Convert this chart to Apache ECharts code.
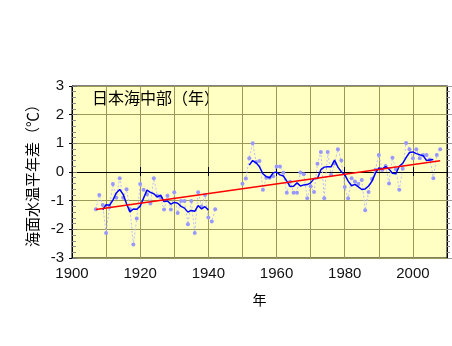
<!DOCTYPE html>
<html><head><meta charset="utf-8">
<script src="https://cdn.jsdelivr.net/npm/echarts@6/dist/echarts.min.js"></script>
<style>html,body{margin:0;padding:0;background:#fff;}#c{width:452px;height:346px;}</style>
</head><body><div id="c"></div>
<script>
// Data
const title = '日本海中部（年）';
const xName = '年';
const yName = '海面水温平年差（℃）';
const firstYear = 1907;
// annual anomalies 1907..2008 (null = no data)
const annual = [
 -1.30,-0.80,-1.15,-2.13,-1.22,-0.42,-0.90,-0.22,-0.90,-0.60,
 -1.30,-2.53,-1.62,-0.42,-0.62,-0.78,-1.10,-0.22,-0.83,-0.88,
 -1.31,-0.83,-1.31,-0.71,-1.43,-1.01,-1.01,-1.82,-1.01,-2.13,
 -0.71,-1.20,-0.80,-1.59,-1.73,-1.30,
 null,null,null,null,null,null,null,
 -0.41,-0.23,0.48,1.00,0.35,0.38,-0.62,-0.20,-0.20,-0.15,
 0.19,0.19,-0.03,-0.72,-0.34,-0.72,-0.72,-0.02,-0.08,-0.92,
 -0.50,-0.70,0.29,0.70,-0.92,0.70,-0.10,0.30,0.79,0.40,
 -0.52,-0.92,-0.22,-0.33,-0.42,-0.28,-1.33,-0.70,-0.24,0.08,
 0.59,0.07,0.21,-0.40,0.50,0.10,-0.62,0.11,1.01,0.79,
 0.48,0.79,0.48,0.59,0.59,0.44,-0.22,0.59,0.79
];
// 5-year running mean as drawn (blue line), 1907..2008
const smooth = [
 null,null,-1.32,-1.14,-1.16,-0.98,-0.73,-0.61,-0.78,-1.11,
 -1.39,-1.29,-1.30,-1.19,-0.91,-0.63,-0.71,-0.76,-0.87,-0.81,
 -1.03,-1.01,-1.12,-1.06,-1.09,-1.20,-1.26,-1.40,-1.34,-1.37,
 -1.17,-1.29,-1.21,-1.32,null,null,
 null,null,null,null,null,null,null,
 null,null,0.24,0.40,0.32,0.18,-0.06,-0.16,-0.20,-0.03,
 0.00,-0.10,-0.14,-0.32,-0.51,-0.50,-0.38,-0.49,-0.45,-0.44,
 -0.38,-0.23,-0.23,0.08,0.17,0.18,0.18,0.42,0.17,0.01,
 -0.09,-0.32,-0.48,-0.43,-0.52,-0.61,-0.59,-0.49,-0.32,-0.04,
 0.14,0.11,0.19,0.10,-0.04,-0.06,0.20,0.30,0.50,0.68,
 0.70,0.64,0.60,0.57,0.40,0.42,0.44,null,null
];
const trendYears = [1907, 2008];
const trendValues = [-1.31, 0.39];
const xTicks = [1900, 1920, 1940, 1960, 1980, 2000];

const pairs = arr => arr.map((v, i) => [firstYear + i, v === null ? '-' : v]);

const gridColor = '#9c9858';
const font = 'Liberation Sans, Arial, sans-serif';
const cjk = 'Noto Sans CJK JP';
const chart = echarts.init(document.getElementById('c'), null, {renderer: 'canvas'});
chart.setOption({
  animation: false,
  backgroundColor: '#ffffff',
  grid: {left: 72, right: 5, top: 86, bottom: 88, show: true,
         backgroundColor: '#ffffc4', borderColor: '#000', borderWidth: 1},
  graphic: [{type: 'text', left: 92, top: 90,
             style: {text: title, fontSize: 16, fontFamily: cjk, fill: '#000'}}],
  xAxis: [{
    type: 'value', position: 'bottom', min: 1900, max: 2010, interval: 20,
    name: xName, nameLocation: 'middle', nameGap: 35,
    nameTextStyle: {fontFamily: cjk, fontSize: 14, color: '#000'},
    axisLine: {show: true, lineStyle: {color: '#000', width: 1}},
    axisTick: {show: true, length: 4, lineStyle: {color: '#000'}},
    axisLabel: {color: '#111', fontSize: 15, fontFamily: font, margin: 8,
                formatter: v => xTicks.indexOf(v) >= 0 ? String(v) : ''},
    splitLine: {show: true, lineStyle: {color: gridColor, width: 1}},
    minorTick: {show: false, splitNumber: 2},
    minorSplitLine: {show: true, lineStyle: {color: gridColor, width: 1}}
  }, {
    type: 'value', position: 'top', min: 1900, max: 2010, interval: 20,
    axisLine: {show: true, lineStyle: {color: '#000'}},
    axisTick: {show: true, length: 5, lineStyle: {color: '#000'}},
    axisLabel: {show: false}, splitLine: {show: false}
  }],
  yAxis: [{
    type: 'value', position: 'left', min: -3, max: 3, interval: 1,
    name: yName, nameLocation: 'middle', nameRotate: 90, nameGap: 27,
    nameTextStyle: {fontFamily: cjk, fontSize: 15, color: '#000'},
    axisLine: {show: true, lineStyle: {color: '#000'}},
    axisTick: {show: true, length: 3, lineStyle: {color: '#000'}},
    axisLabel: {color: '#111', fontSize: 15, fontFamily: font, margin: 8},
    splitLine: {show: true, lineStyle: {color: gridColor, width: 1}}
  }, {
    type: 'value', position: 'left', min: -3, max: 3, interval: 1,
    axisLine: {show: false},
    axisTick: {show: true, inside: true, length: 5, lineStyle: {color: '#777'}},
    minorTick: {show: true, splitNumber: 5, length: 4, lineStyle: {color: '#888'}},
    axisLabel: {show: false}, splitLine: {show: false}
  }, {
    type: 'value', position: 'right', min: -3, max: 3, interval: 1,
    axisLine: {show: true, lineStyle: {color: '#000'}},
    axisTick: {show: true, length: 5, lineStyle: {color: '#999'}},
    minorTick: {show: true, splitNumber: 5, length: 3, lineStyle: {color: '#888'}},
    axisLabel: {show: false}, splitLine: {show: false}
  }],
  series: [{
    type: 'line', data: pairs(annual), connectNulls: false,
    symbol: 'circle', symbolSize: 4, showSymbol: true,
    itemStyle: {color: '#9898ff'},
    lineStyle: {color: '#bcbcff', width: 1, type: [2, 2]}, z: 2
  }, {
    type: 'line', data: pairs(smooth), connectNulls: false, showSymbol: false,
    lineStyle: {color: '#0000ff', width: 1.5}, z: 3
  }, {
    type: 'line', data: trendYears.map((y, i) => [y, trendValues[i]]), showSymbol: false,
    lineStyle: {color: '#ff0000', width: 1.5}, z: 4
  }]
});
</script></body></html>
